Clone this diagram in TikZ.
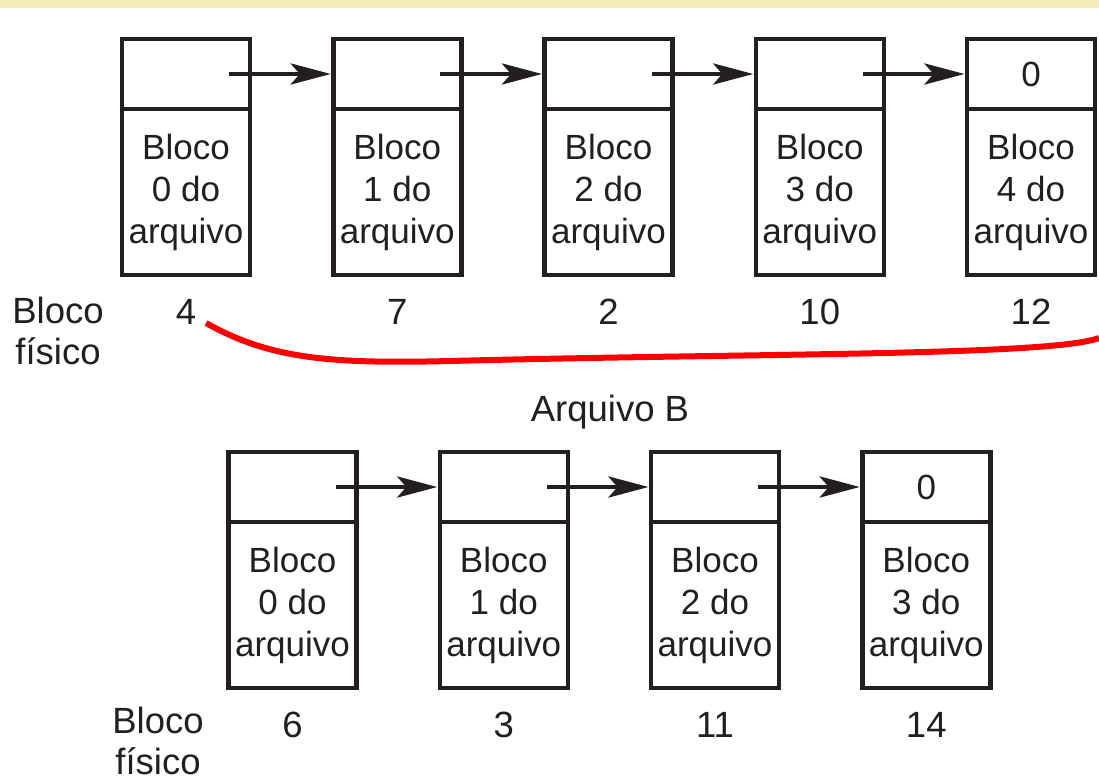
\documentclass[tikz,border=0pt]{standalone}
\usepackage{fontspec}
\setmainfont{Liberation Sans}
\usetikzlibrary{positioning,arrows.meta}
\definecolor{ink}{RGB}{35,31,32}
\definecolor{bandyellow}{RGB}{242,236,182}

\begin{document}
\begin{tikzpicture}[
    x=1pt, y=-1pt,
    node distance=83.25pt,
    every node/.style={font=\fontsize{35}{42}\selectfont, text=ink, inner sep=0pt, outer sep=0pt},
    ptr/.style={draw=ink, line width=4.5pt, minimum width=128pt, minimum height=70pt},
    dat/.style={draw=ink, line width=4.5pt, minimum width=128pt, minimum height=166pt, align=center},
    lbl/.style={align=center, font=\fontsize{36.5}{41}\selectfont},
    link/.style={draw=ink, line width=4.5pt, shorten >=2.5pt, -{Stealth[length=40pt,width=21pt,inset=9pt]}}
]
    \useasboundingbox (0,0) rectangle (1099,783);
    \fill[white] (0,0) rectangle (1099,783);
    \fill[bandyellow] (0,0) rectangle (1099,8);

    % File A: pointer cells
    \node[ptr] (a0) at (186,74) {};
    \node[ptr, right=of a0] (a1) {};
    \node[ptr, right=of a1] (a2) {};
    \node[ptr, right=of a2] (a3) {};
    \node[ptr, right=of a3] (a4) {0};

    % File A: data cells
    \node[dat, below=0pt of a0] (a0d) {Bloco\\0 do\\arquivo};
    \node[dat, below=0pt of a1] (a1d) {Bloco\\1 do\\arquivo};
    \node[dat, below=0pt of a2] (a2d) {Bloco\\2 do\\arquivo};
    \node[dat, below=0pt of a3] (a3d) {Bloco\\3 do\\arquivo};
    \node[dat, below=0pt of a4] (a4d) {Bloco\\4 do\\arquivo};

    % File A: physical blocks
    \node[lbl] (fa) at (58,331) {Bloco\\físico};
    \node[lbl] (na0) at ([yshift=-37pt]a0d.south) {4};
    \node[lbl] (na1) at ([yshift=-37pt]a1d.south) {7};
    \node[lbl] (na2) at ([yshift=-37pt]a2d.south) {2};
    \node[lbl] (na3) at ([yshift=-37pt]a3d.south) {10};
    \node[lbl] (na4) at ([yshift=-37pt]a4d.south) {12};

    % File A: links
    \draw[link] ([xshift=43pt]a0.center) -- (a1.west);
    \draw[link] ([xshift=43pt]a1.center) -- (a2.west);
    \draw[link] ([xshift=43pt]a2.center) -- (a3.west);
    \draw[link] ([xshift=43pt]a3.center) -- (a4.west);

    % red mark
    \coordinate (ra) at (206,323);
    \coordinate (rb) at (1099,338);
    \draw[red, line width=6pt] (ra) .. controls (270,359) and (330,364) .. (450,361)
        .. controls (760,353) and (1050,356) .. (rb);

    \node[lbl] (fb) at (610,412) {Arquivo B};

    % File B: pointer cells
    \node[ptr] (b0) at (292.5,487) {};
    \node[ptr, right=of b0] (b1) {};
    \node[ptr, right=of b1] (b2) {};
    \node[ptr, right=of b2] (b3) {0};

    % File B: data cells
    \node[dat, below=0pt of b0] (b0d) {Bloco\\0 do\\arquivo};
    \node[dat, below=0pt of b1] (b1d) {Bloco\\1 do\\arquivo};
    \node[dat, below=0pt of b2] (b2d) {Bloco\\2 do\\arquivo};
    \node[dat, below=0pt of b3] (b3d) {Bloco\\3 do\\arquivo};

    % File B: physical blocks
    \node[lbl] (fbb) at (158,741) {Bloco\\físico};
    \node[lbl] (nb0) at ([yshift=-37pt]b0d.south) {6};
    \node[lbl] (nb1) at ([yshift=-37pt]b1d.south) {3};
    \node[lbl] (nb2) at ([yshift=-37pt]b2d.south) {11};
    \node[lbl] (nb3) at ([yshift=-37pt]b3d.south) {14};

    % File B: links
    \draw[link] ([xshift=43pt]b0.center) -- (b1.west);
    \draw[link] ([xshift=43pt]b1.center) -- (b2.west);
    \draw[link] ([xshift=43pt]b2.center) -- (b3.west);
\end{tikzpicture}
\end{document}
